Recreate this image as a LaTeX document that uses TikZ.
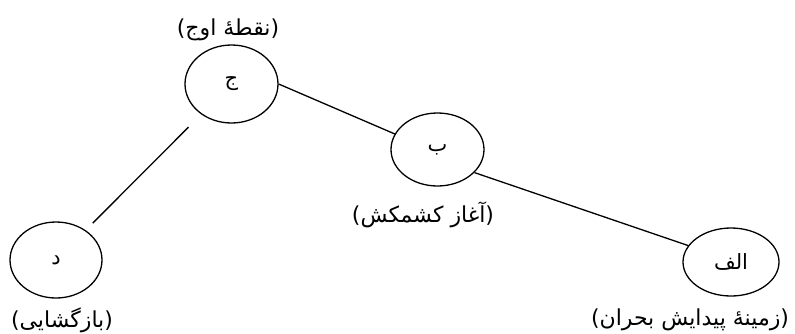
\documentclass[tikz,border=0pt]{standalone}
\usepackage{fontspec}
\TeXXeTstate=1
\newfontfamily\arabicfont[Script=Arabic]{DejaVu Sans}
\newfontfamily\parenfont{DejaVu Sans}
\usetikzlibrary{shapes.geometric}
\newcommand{\fa}[1]{{\arabicfont\beginR #1\endR}}
\tikzset{
  stage/.style={draw, ellipse, line width=1.3pt, inner sep=0pt, font=\arabicfont\fontsize{21}{24}\selectfont},
  caption/.style={inner sep=0pt, font=\parenfont\fontsize{22}{25}\selectfont},
  link/.style={line width=1.3pt}
}
\begin{document}
\begin{tikzpicture}[x=1pt,y=-1pt]
\useasboundingbox (0,0) rectangle (795,333);
\node[stage, minimum width=93pt, minimum height=78pt] (j) at (231.5,84) {\fa{ج}};
\node[stage, minimum width=93pt, minimum height=73pt] (b) at (437.5,149.5) {\fa{ب}};
\node[stage, minimum width=92pt, minimum height=76pt] (d) at (56,260) {\fa{د}};
\node[stage, minimum width=96pt, minimum height=68pt] (alef) at (731,262) {\fa{الف}};
\node[caption] (lj) at (228,30) {(\fa{نقطهٔ اوج})};
\node[caption] (lb) at (423,215) {(\fa{آغاز کشمکش})};
\node[caption] (ld) at (62,320) {(\fa{بازگشایی})};
\node[caption] (la) at (690,320) {(\fa{زمینهٔ پیدایش بحران})};
\draw[link] (j.east) -- (b.160);
\draw[link] (b.-32) -- (alef.159);
\draw[link, shorten <=18pt, shorten >=10pt] (j) -- (d);
\end{tikzpicture}
\end{document}
